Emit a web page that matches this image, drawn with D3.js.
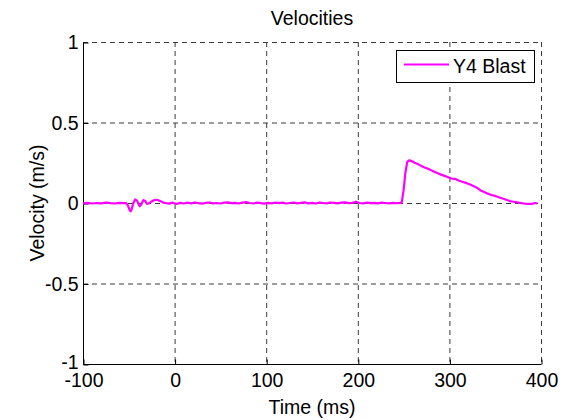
<!DOCTYPE html>
<html>
<head>
<meta charset="utf-8">
<script src="https://cdn.jsdelivr.net/npm/d3@7"></script>
<style>
  html, body { margin: 0; padding: 0; background: #fff; }
  svg { display: block; font-family: "Liberation Sans", Arial, Helvetica, sans-serif; }
</style>
</head>
<body>
<svg id="chart" width="567" height="420"></svg>
<script>
// Sampled time (ms) of the Y4 blast velocity record
const timeMs = [
  -100, -95, -90, -85, -80, -75, -70, -65, -60, -56,
  -53, -51, -49, -48, -47, -45, -43, -41, -39, -38, -36, -34, -32, -30, -28, -25, -22, -19, -16, -13, -10, -6, -2,
  2, 6, 10, 14, 18, 22, 26, 30, 34, 38,
  42, 46, 50, 54, 58, 62, 66, 70, 74, 78,
  82, 86, 90, 94, 98, 102, 106, 110, 114, 118,
  122, 126, 130, 134, 138, 142, 146, 150, 154, 158,
  162, 166, 170, 174, 178, 182, 186, 190, 194, 198,
  202, 206, 210, 214, 218, 222, 226, 230, 234, 238,
  242, 246,
  248, 250, 252, 254, 256, 258,
  262, 266, 270, 274, 278, 282, 286, 290, 294, 298,
  302, 306, 310, 314, 318, 322, 326, 330, 334, 338,
  342, 346, 350, 354, 358, 362, 366, 370, 374, 378,
  382, 386, 390, 393, 396
];

// Velocity (m/s) at each sample
const velocity = [
  -0.002, 0.001, -0.003, 0.000, -0.002, 0.002, -0.001, -0.003, 0.001, -0.001,
  0.000, -0.015, -0.045, -0.052, -0.040, 0.000, 0.022, 0.015, -0.012, -0.020, -0.005, 0.018, 0.012, -0.006, -0.002, 0.010, 0.018, 0.020, 0.012, 0.004, 0.000, -0.004, 0.002,
  -0.006, 0.001, -0.003, 0.002, -0.002, 0.003, -0.001, -0.004, 0.001, 0.003,
  -0.002, 0.000, -0.003, 0.002, 0.004, -0.001, 0.001, -0.003, 0.002, 0.005,
  0.000, -0.003, 0.002, -0.001, -0.004, 0.001, -0.002, 0.003, -0.001, 0.002,
  -0.003, 0.000, 0.003, -0.002, 0.001, 0.004, -0.002, 0.001, -0.003, 0.002,
  0.000, -0.002, 0.003, 0.001, -0.002, 0.002, 0.004, -0.001, 0.001, 0.008,
  0.000, -0.002, 0.002, -0.001, 0.001, -0.002, 0.002, 0.000, -0.002, 0.001,
  -0.001, 0.000,
  0.004, 0.080, 0.190, 0.255, 0.265, 0.262,
  0.250, 0.240, 0.228, 0.218, 0.210, 0.198, 0.188, 0.178, 0.170, 0.162,
  0.152, 0.150, 0.140, 0.132, 0.125, 0.116, 0.105, 0.095, 0.078, 0.068,
  0.058, 0.050, 0.044, 0.036, 0.028, 0.020, 0.012, 0.008, 0.004, 0.000,
  -0.004, -0.006, -0.006, 0.000, -0.002
];

const xTicks = [-100, 0, 100, 200, 300, 400];
const yTicks = [-1, -0.5, 0, 0.5, 1];
const seriesName = "Y4 Blast";

const svg = d3.select("#chart");
const margin = { left: 83, right: 26, top: 42, bottom: 56 };
const W = 567, H = 420;
const fontSize = 19.5;
const x = d3.scaleLinear().domain([-100, 400]).range([margin.left, W - margin.right]);
const y = d3.scaleLinear().domain([-1, 1]).range([H - margin.bottom, margin.top]);

const gridColor = "#3a3a3a";

// Dashed grid at every tick
svg.append("g").selectAll("line").data(xTicks).join("line")
  .attr("x1", d => x(d) + 0.5).attr("x2", d => x(d) + 0.5)
  .attr("y1", y(1)).attr("y2", y(-1))
  .attr("stroke", gridColor).attr("stroke-width", 1)
  .attr("stroke-dasharray", "5,4");
svg.append("g").selectAll("line").data(yTicks).join("line")
  .attr("y1", d => y(d) + 0.5).attr("y2", d => y(d) + 0.5)
  .attr("x1", x(-100)).attr("x2", x(400))
  .attr("stroke", gridColor).attr("stroke-width", 1)
  .attr("stroke-dasharray", "5,4");

// Axes with inward ticks, plain hyphen minus signs
const xAxis = d3.axisBottom(x).tickValues(xTicks).tickSize(-5).tickPadding(9).tickFormat(d => String(d));
const yAxis = d3.axisLeft(y).tickValues(yTicks).tickSize(-5).tickPadding(5).tickFormat(d => String(d));

const gx = svg.append("g").attr("transform", `translate(0.5,${y(-1) + 0.5})`).call(xAxis);
const gy = svg.append("g").attr("transform", `translate(${x(-100) + 0.5},0.5)`).call(yAxis);
[gx, gy].forEach(g => {
  g.select(".domain").remove();
  g.selectAll(".tick line").attr("stroke", "#000");
  g.selectAll(".tick text").attr("fill", "#000").attr("font-size", fontSize).attr("font-family", null);
});
gx.append("line").attr("x1", x(-100)).attr("x2", x(400)).attr("stroke", "#000");
gy.append("line").attr("y1", y(1)).attr("y2", y(-1)).attr("stroke", "#000");
// the bottom label sits a little higher so it clears the x tick labels
gy.selectAll(".tick text").attr("dy", d => d === -1 ? "0.2em" : "0.33em");

// Velocity trace
const line = d3.line().x((d, i) => x(timeMs[i])).y(d => y(d));
svg.append("path")
  .datum(velocity)
  .attr("d", line)
  .attr("fill", "none")
  .attr("stroke", "#ff00ff")
  .attr("stroke-width", 2.2)
  .attr("stroke-linejoin", "round");

// Title and axis labels
svg.append("text").attr("x", (x(-100) + x(400)) / 2).attr("y", 25)
  .attr("text-anchor", "middle").attr("font-size", fontSize).text("Velocities");
svg.append("text").attr("x", (x(-100) + x(400)) / 2).attr("y", 414)
  .attr("text-anchor", "middle").attr("font-size", fontSize).text("Time (ms)");
svg.append("text")
  .attr("transform", `translate(44,${(y(1) + y(-1)) / 2}) rotate(-90)`)
  .attr("text-anchor", "middle").attr("font-size", fontSize).text("Velocity (m/s)");

// Legend
const lg = svg.append("g");
lg.append("rect").attr("x", 396.5).attr("y", 50.5).attr("width", 138).attr("height", 32)
  .attr("fill", "#fff").attr("stroke", "#000").attr("stroke-width", 1);
lg.append("line").attr("x1", 404).attr("x2", 449).attr("y1", 64.5).attr("y2", 64.5)
  .attr("stroke", "#ff00ff").attr("stroke-width", 2.2);
lg.append("text").attr("x", 453).attr("y", 73).attr("font-size", fontSize).text(seriesName);
</script>
</body>
</html>
